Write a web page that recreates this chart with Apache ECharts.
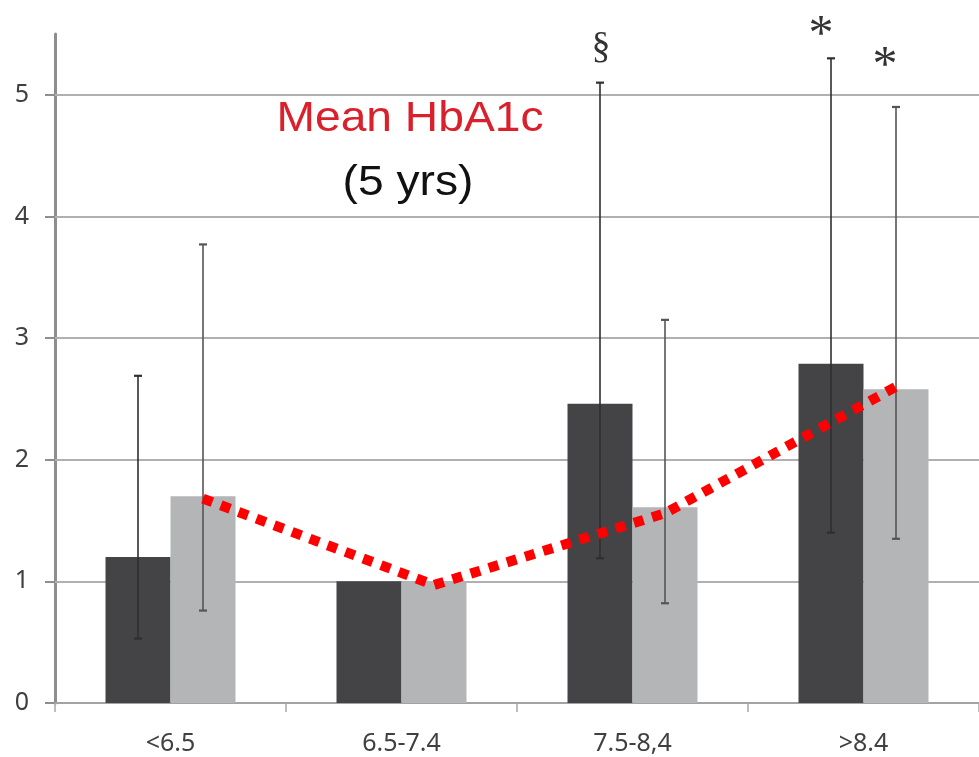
<!DOCTYPE html>
<html><head><meta charset="utf-8">
<script src="https://cdn.jsdelivr.net/npm/echarts@6/dist/echarts.min.js"></script>
<style>html,body{margin:0;padding:0;background:#fff}#c{width:979px;height:757px}</style>
</head><body><div id="c"></div><script>
// ---- data ----
const categories = ['<6.5', '6.5-7.4', '7.5-8,4', '>8.4'];
const darkValues = [1.20, 1.00, 2.46, 2.79];
const lightValues = [1.70, 1.00, 1.61, 2.58];
const darkErrLow = [0.53, null, 1.19, 1.40];
const darkErrHigh = [2.69, null, 5.10, 5.30];
const lightErrLow = [0.76, null, 0.82, 1.35];
const lightErrHigh = [3.77, null, 3.15, 4.90];
const trendValues = [1.68, 0.97, 1.56, 2.60];
const darkMarks = ['', '', '§', '*'];
const lightMarks = ['', '', '', '*'];
const yTicks = [0, 1, 2, 3, 4, 5];

// ---- styling ----
const BAR_W = 65;
const HALF = BAR_W / 2;
const markStyle = {
  '§': { font: '38px "Liberation Serif", serif', dx: 1, dy: -35 },
  '*dark': { font: '50px "Liberation Serif", serif', dx: -10, dy: -22 },
  '*light': { font: '50px "Liberation Serif", serif', dx: -11, dy: -40 }
};

function errSeries(lows, highs, marks, offset, color, kind) {
  return {
    type: 'custom', z: 11, silent: true,
    data: categories.map((c, i) => [i, lows[i] == null ? NaN : lows[i], highs[i] == null ? NaN : highs[i]]),
    renderItem: function (params, api) {
      const i = api.value(0), lo = api.value(1), hi = api.value(2);
      if (isNaN(lo) || isNaN(hi)) return null;
      const a = api.coord([i, lo]), b = api.coord([i, hi]);
      const x = a[0] + offset;
      const ls = { stroke: color, lineWidth: 1.6 };
      const cs = { stroke: color, lineWidth: 2.2 };
      const children = [
        { type: 'line', shape: { x1: x, y1: a[1], x2: x, y2: b[1] }, style: ls },
        { type: 'line', shape: { x1: x - 4, y1: a[1], x2: x + 4, y2: a[1] }, style: cs },
        { type: 'line', shape: { x1: x - 4, y1: b[1], x2: x + 4, y2: b[1] }, style: cs }
      ];
      const m = marks[params.dataIndex];
      if (m) {
        const st = markStyle[m === '*' ? '*' + kind : m];
        children.push({ type: 'text', style: { text: m, x: x + st.dx, y: b[1] + st.dy,
          font: st.font, fill: '#333', align: 'center', verticalAlign: 'middle' } });
      }
      return { type: 'group', children };
    }
  };
}

const chart = echarts.init(document.getElementById('c'));
chart.setOption({
  animation: false,
  backgroundColor: '#fff',
  grid: { left: 55, right: -2, top: 34, bottom: 54, containLabel: false },
  xAxis: {
    type: 'category', data: categories,
    axisLine: { lineStyle: { color: '#a3a3a3', width: 2 } },
    axisTick: { show: true, length: 9, lineStyle: { color: '#a8a8a8', width: 1.5 } },
    axisLabel: { fontFamily: '"Noto Sans", sans-serif', fontSize: 25, color: '#404040', margin: 28 },
    splitLine: { show: false }
  },
  yAxis: {
    type: 'value', min: 0, max: 5.5, interval: 1,
    axisLine: { show: true, lineStyle: { color: '#8e8e8e', width: 3 } },
    axisTick: { show: true, length: 10, customValues: yTicks, lineStyle: { color: '#8e8e8e', width: 2 } },
    axisLabel: { customValues: yTicks, fontFamily: '"Noto Sans", sans-serif', fontSize: 25, color: '#404040', margin: 26,
      formatter: v => (Number.isInteger(v) ? String(v) : '') },
    splitLine: { show: false }
  },
  graphic: [
    { type: 'text', x: 410, y: 119, scaleX: 1.1, silent: true,
      style: { text: 'Mean HbA1c', x: 0, y: 0, font: '42px "Liberation Sans", Arial, sans-serif', fill: '#d9202b', align: 'center', verticalAlign: 'middle' } },
    { type: 'text', x: 408, y: 183, scaleX: 1.1, silent: true,
      style: { text: '(5 yrs)', x: 0, y: 0, font: '42px "Liberation Sans", Arial, sans-serif', fill: '#111', align: 'center', verticalAlign: 'middle' } }
  ],
  series: [
    { type: 'line', data: [], z: 1, silent: true,
      markLine: { silent: true, z: 1, symbol: 'none', label: { show: false },
        lineStyle: { color: '#b0b0b0', width: 2, type: 'solid' },
        data: yTicks.slice(1).map(v => ({ yAxis: v })) } },
    { type: 'bar', z: 10, data: darkValues, barWidth: BAR_W, barGap: '0%', itemStyle: { color: '#444447' }, silent: true },
    { type: 'bar', z: 10, data: lightValues, barWidth: BAR_W, barGap: '0%', itemStyle: { color: '#b4b5b7' }, silent: true },
    errSeries(darkErrLow, darkErrHigh, darkMarks, -HALF, '#2f2f2f', 'dark'),
    errSeries(lightErrLow, lightErrHigh, lightMarks, HALF, '#555', 'light'),
    { type: 'custom', z: 12, silent: true, data: [[0, trendValues[0]]],
      renderItem: function (params, api) {
        const pts = trendValues.map((v, i) => { const p = api.coord([i, v]); return [p[0] + HALF, p[1]]; });
        return { type: 'polyline', shape: { points: pts },
          style: { stroke: '#ff0000', lineWidth: 10, lineDash: [10, 9], fill: null } };
      } }
  ]
});
</script></body></html>
